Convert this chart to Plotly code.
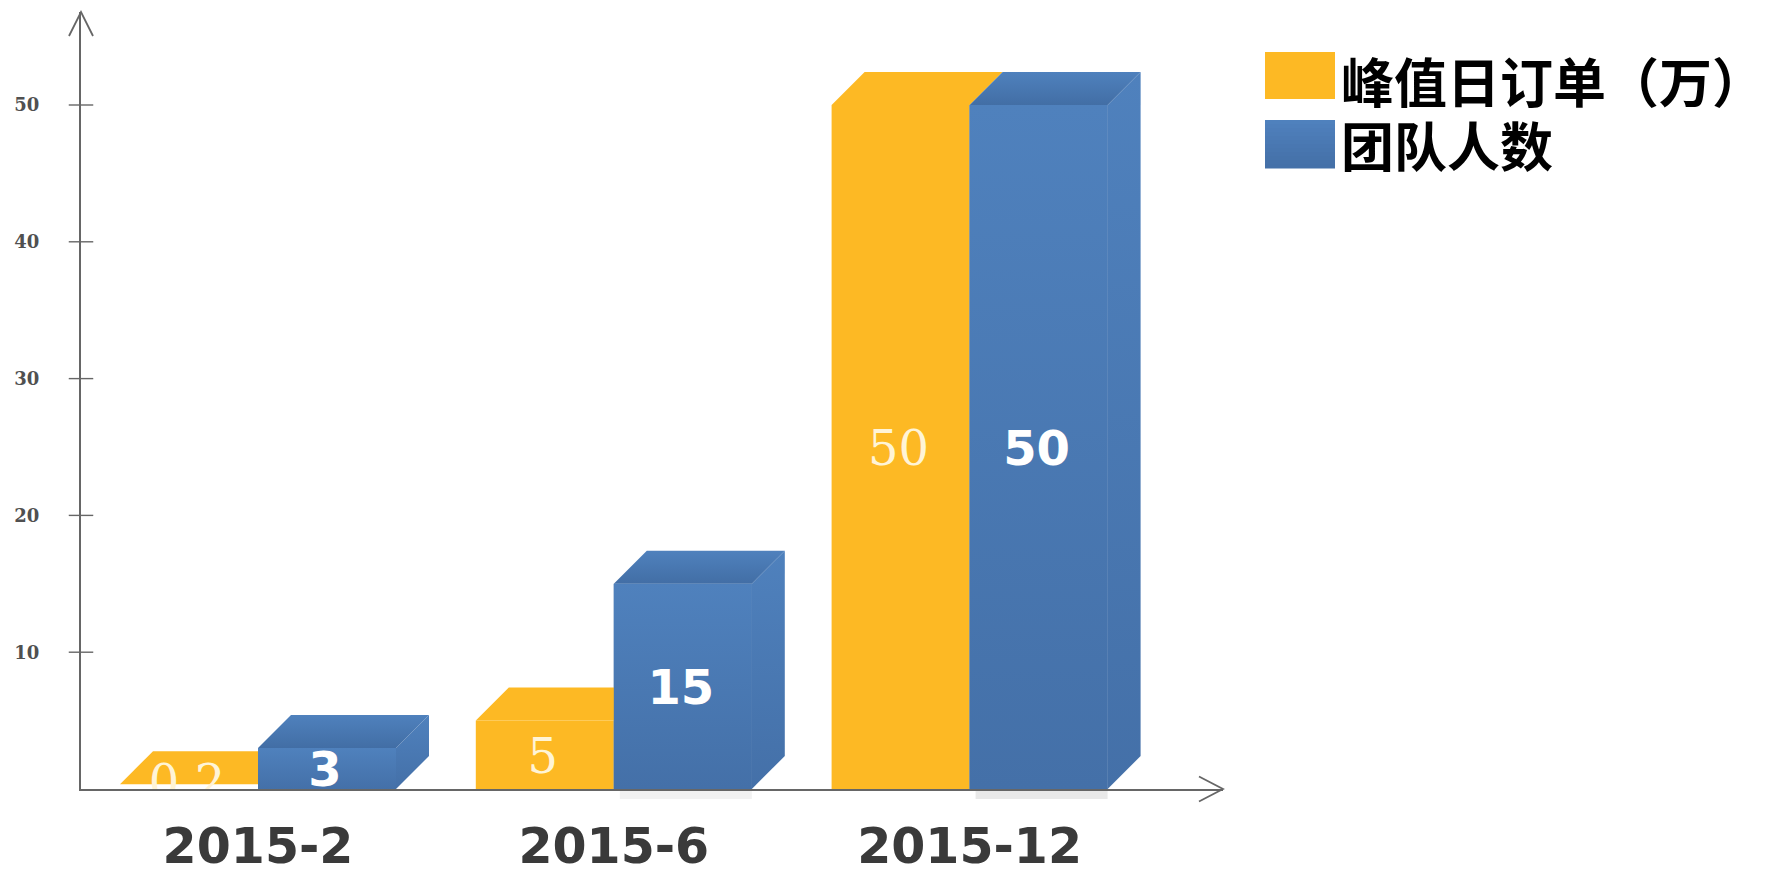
import plotly.graph_objects as go

categories = ["2015-2", "2015-6", "2015-12"]
orders = [0.35, 5, 50]
team = [3, 15, 50]
order_labels = ["0.2", "5", "50"]
team_labels = ["3", "15", "50"]
y_ticks = [10, 20, 30, 40, 50]
legend_names = ["峰值日订单（万）", "团队人数"]

W, H = 1768, 869
PL, PR, PT, PB = 81, 1223, 12, 789
PX_PER_UNIT = 13.68
PX_PER_GROUP = 355.8
X_MIN = -(258 - PL) / PX_PER_GROUP
X_MAX = (PR - 258) / PX_PER_GROUP
Y_MAX = (PB - PT) / PX_PER_UNIT
BAR_W = 138 / PX_PER_GROUP
DX = 33 / PX_PER_GROUP
DY = 33 / PX_PER_UNIT
LABEL_DX = -2 / PX_PER_GROUP
LABEL_DY = -6 / PX_PER_UNIT

YELLOW = "#FDB924"
BLUE_TOP = "#4F81BD"
BLUE_BOT = "#4470A8"
AXIS = "#666666"

fig = go.Figure()

fig.add_bar(x=[0, 1, 2], y=orders, name=legend_names[0], offsetgroup="a",
            marker=dict(color=["#FFFFFF", YELLOW, YELLOW], line=dict(width=0)), hoverinfo="skip")
fig.add_bar(x=[0, 1, 2], y=team, name=legend_names[1], offsetgroup="b",
            marker=dict(color=BLUE_BOT, line=dict(width=0)), hoverinfo="skip")


def poly(xs, ys, color=None, grad=None):
    kw = dict(fillcolor=color) if color else dict(
        fillgradient=dict(type="vertical", colorscale=[[0, grad[0]], [1, grad[1]]]))
    fig.add_trace(go.Scatter(x=xs + xs[:1], y=ys + ys[:1], mode="lines", fill="toself",
                             line=dict(width=0), hoverinfo="skip", showlegend=False, **kw))


for i, v in enumerate(orders):
    x0, x1 = i - BAR_W, i
    poly([x0, x0 + DX, x1 + DX, x1], [v, v + DY, v + DY, v], color=YELLOW)

for i, v in enumerate(team):
    x0, x1 = i, i + BAR_W
    poly([x1, x1 + DX, x1 + DX, x1], [0, DY, v + DY, v], grad=(BLUE_BOT, BLUE_TOP))
    poly([x0, x0 + DX, x1 + DX, x1], [v, v + DY, v + DY, v], grad=("#426EA5", BLUE_TOP))
    poly([x0, x1, x1, x0], [0, 0, v, v], grad=(BLUE_BOT, BLUE_TOP))

fig.add_trace(go.Scatter(
    x=[i - BAR_W / 2 + LABEL_DX for i in range(3)],
    y=[v / 2 + (LABEL_DY if v >= 1 else 0) for v in orders], text=order_labels,
    mode="text", textposition="middle center", cliponaxis=True, hoverinfo="skip", showlegend=False,
    textfont=dict(family="DejaVu Serif", size=48, color="#FFF4D6")))
fig.add_trace(go.Scatter(
    x=[i + BAR_W / 2 + LABEL_DX for i in range(3)],
    y=[v / 2 + LABEL_DY for v in team], text=team_labels,
    mode="text", textposition="middle center", cliponaxis=True, hoverinfo="skip", showlegend=False,
    textfont=dict(family="DejaVu Sans", size=48, color="white", weight="bold")))

# crossing ticks on the value axis
fig.add_trace(go.Scatter(
    x=[X_MIN] * len(y_ticks), y=y_ticks, mode="markers", cliponaxis=False, hoverinfo="skip", showlegend=False,
    marker=dict(symbol="line-ew", size=17.5, line=dict(color=AXIS, width=1.4))))

plot_w, plot_h = PR - PL, PB - PT
to_x = lambda px: (px - PL) / plot_w
to_y = lambda py: (PB - py) / plot_h


def chevron(points):
    d = " ".join(("M" if n == 0 else "L") + " %.5f %.5f" % (to_x(a), to_y(b)) for n, (a, b) in enumerate(points))
    return dict(type="path", xref="paper", yref="paper", path=d, line=dict(color=AXIS, width=1.8))


shapes = [
    chevron([(PL - 12, PT + 24), (PL, PT), (PL + 12, PT + 24)]),
    chevron([(PR - 24, PB - 12.5), (PR, PB), (PR - 24, PB + 12.5)]),
]

# soft shadow below the tall blue bars
for i in (1, 2):
    shapes.append(dict(type="rect", xref="x", yref="paper", x0=i + 6 / PX_PER_GROUP, x1=i + BAR_W,
                       y0=-1.5 / plot_h, y1=-10 / plot_h,
                       fillcolor="#E9E9E9" if i == 2 else "#F2F2F2", line=dict(width=0), layer="below"))

# legend swatches and labels
annotations = []
shapes.append(dict(type="rect", xref="paper", yref="paper", x0=to_x(1265), x1=to_x(1335),
                   y0=to_y(99), y1=to_y(52), fillcolor=YELLOW, line=dict(width=0)))
strips = 12
for k in range(strips):
    t = k / (strips - 1)
    c = "rgb(%d,%d,%d)" % (79 + (68 - 79) * t, 129 + (112 - 129) * t, 189 + (168 - 189) * t)
    top = 120 + 48 * k / strips
    shapes.append(dict(type="rect", xref="paper", yref="paper", x0=to_x(1265), x1=to_x(1335),
                       y0=to_y(top + 48 / strips + 0.5), y1=to_y(top), fillcolor=c, line=dict(width=0)))
for name, cy in zip(legend_names, (80, 144)):
    annotations.append(dict(xref="paper", yref="paper", x=to_x(1340), y=to_y(cy), xanchor="left", yanchor="middle",
                            text="<b>%s</b>" % name, showarrow=False, height=62, valign="middle", borderpad=0,
                            font=dict(family="Noto Sans CJK SC", size=53, color="#000000")))

fig.update_layout(
    width=W, height=H, autosize=False, barmode="group", bargap=1 - 2 * BAR_W, bargroupgap=0,
    margin=dict(l=PL, r=W - PR, t=PT, b=H - PB, pad=0), plot_bgcolor="white", paper_bgcolor="white",
    showlegend=False, hovermode=False, shapes=shapes, annotations=annotations,
    xaxis=dict(range=[X_MIN, X_MAX], tickvals=[0, 1, 2], ticktext=categories, showgrid=False, zeroline=False,
               showline=True, linecolor=AXIS, linewidth=2, ticks="outside", ticklen=13, tickcolor="rgba(0,0,0,0)",
               tickfont=dict(family="DejaVu Sans", size=49, color="#3A3A3A", weight="bold"), automargin=False),
    yaxis=dict(range=[0, Y_MAX], tickvals=y_ticks, showgrid=False, zeroline=False,
               showline=True, linecolor=AXIS, linewidth=2, ticks="outside", ticklen=36, tickcolor="rgba(0,0,0,0)",
               tickfont=dict(family="DejaVu Serif", size=18, color="#505050", weight="bold"), automargin=False),
)

fig.write_html("out.html", config=dict(displayModeBar=False),
               post_script="document.body.style.margin='0';document.body.style.overflow='hidden';")
